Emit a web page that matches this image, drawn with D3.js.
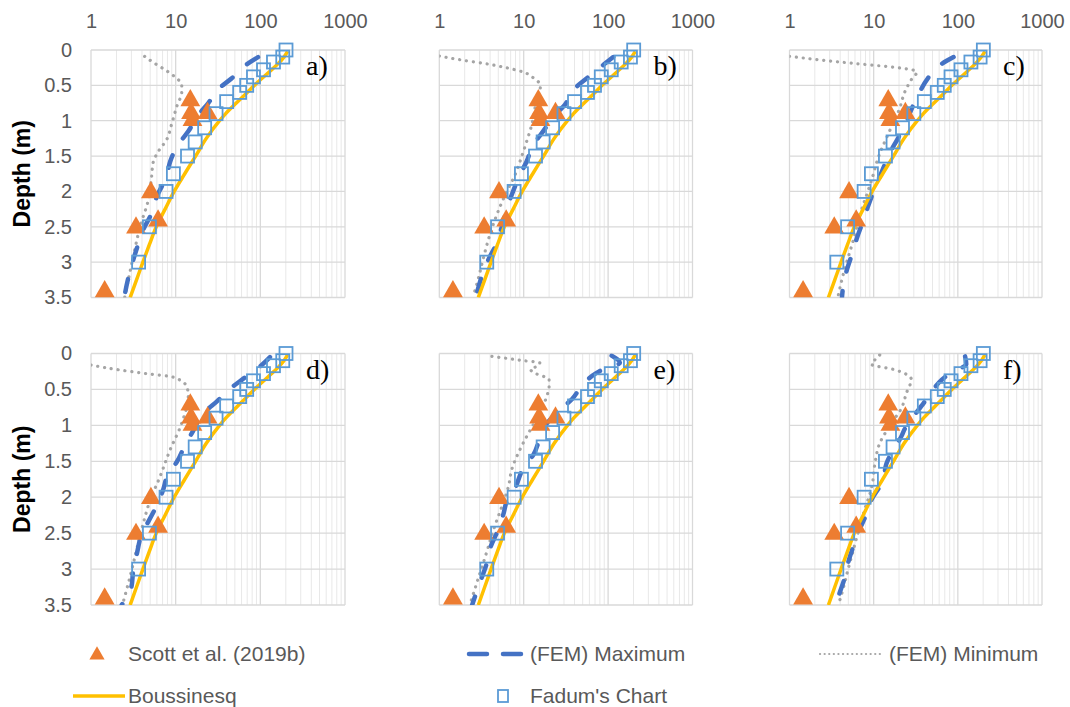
<!DOCTYPE html>
<html>
<head>
<meta charset="utf-8">
<script src="https://cdn.jsdelivr.net/npm/d3@7"></script>
<style>
  html, body { margin: 0; padding: 0; background: #fff; }
  svg { display: block; font-family: "Liberation Sans", Arial, sans-serif; }
</style>
</head>
<body>
<svg id="chart" width="1070" height="707"></svg>
<script>
// Vertical stress (log scale, top axis) against depth for six FEM cases a) to f)

const stressTicks = [1, 10, 100, 1000];
const depthTicks = [0, 0.5, 1, 1.5, 2, 2.5, 3, 3.5];
const panelLabels = ["a)", "b)", "c)", "d)", "e)", "f)"];
const seriesNames = ["Scott et al. (2019b)", "(FEM) Maximum", "(FEM) Minimum", "Boussinesq", "Fadum's Chart"];
const depthTitle = "Depth (m)";

// Reference series, identical in every panel: [depth (m), stress]
const scott = [[0.7, 14.9], [0.88, 15.2], [0.98, 15.8], [0.88, 23.8], [2.0, 5.1], [2.4, 6.2], [2.5, 3.4], [3.4, 1.45]];
const fadum = [[0, 201], [0.1, 184], [0.17, 143], [0.28, 109], [0.38, 83], [0.5, 69], [0.6, 57], [0.73, 40],
  [0.9, 30], [1.1, 22], [1.3, 17], [1.5, 13.8], [1.75, 9.4], [2.0, 7.7], [2.5, 4.9], [3.0, 3.65]];
const boussinesq = [[0.02, 210], [0.1, 190], [0.2, 160], [0.3, 130], [0.4, 105], [0.5, 85], [0.6, 70], [0.75, 52],
  [0.9, 39], [1.0, 33], [1.25, 23], [1.5, 17.2], [1.75, 12.8], [2.0, 9.6], [2.25, 7.5], [2.5, 5.9],
  [2.75, 4.9], [3.0, 4.1], [3.25, 3.45], [3.5, 2.9]];

// FEM envelopes per case: [depth (m), stress]
const femMaxA = [[0.1, 94], [0.22, 66], [0.4, 46], [0.55, 32], [0.75, 24.3], [0.92, 18.5], [1.15, 14.1], [1.34, 10.7],
  [1.58, 8.6], [1.79, 7.8], [2.07, 6.0], [2.31, 5.2], [2.54, 4.15], [2.75, 3.6], [3.06, 3.0], [3.22, 2.76], [3.5, 2.47]];
const femMinA = [[0.09, 4.3], [0.18, 5.5], [0.28, 7.5], [0.38, 9.8], [0.49, 11.8], [0.59, 11.8], [0.8, 10.3], [1.04, 9.0],
  [1.27, 7.8], [1.44, 6.2], [1.6, 5.4], [1.79, 5.2], [2.12, 4.75], [2.5, 3.8], [2.92, 3.16], [3.5, 2.5]];

const femMaxB = [[0.1, 115], [0.21, 88], [0.4, 56], [0.54, 40.5], [0.8, 29.5], [0.87, 25.7], [1.18, 16.3], [1.34, 13],
  [1.58, 10.8], [1.77, 9], [2.05, 7.2], [2.24, 6.3], [2.5, 5.5], [2.73, 4.8], [2.97, 3.8], [3.15, 3.3], [3.5, 2.7]];
const femMinB = [[0.085, 1.0], [0.14, 1.8], [0.19, 3.4], [0.25, 6.2], [0.31, 9.8], [0.4, 13.2], [0.5, 15.8], [0.75, 14],
  [1.05, 12.5], [1.3, 10.8], [1.5, 9.5], [1.75, 8.0], [2.0, 6.3], [2.25, 5.1], [2.6, 4.0], [2.9, 3.4], [3.3, 2.8], [3.5, 2.5]];

const femMaxC = [[0.1, 89], [0.21, 62], [0.4, 44], [0.6, 35], [0.87, 27.4], [1.04, 23.9], [1.27, 19], [1.44, 15.8],
  [1.74, 12.3], [1.93, 10.5], [2.19, 8.7], [2.4, 7.6], [2.64, 6.4], [2.87, 5.6], [3.13, 4.75], [3.34, 4.35], [3.5, 4.2]];
const femMinC = [[0.09, 1.0], [0.14, 2.3], [0.19, 5.8], [0.235, 14.5], [0.28, 28.7], [0.31, 32.5], [0.42, 28], [0.565, 24],
  [0.85, 20], [1.18, 15], [1.5, 11.5], [1.85, 9.4], [2.3, 7.0], [2.73, 5.6], [3.15, 4.4], [3.5, 3.75]];

const femMaxD = [[0.05, 130], [0.16, 104], [0.35, 63], [0.49, 44], [0.67, 30.5], [0.81, 22.2], [1.11, 15.5], [1.25, 13.2],
  [1.51, 10.3], [1.67, 8.2], [1.9, 7.1], [2.02, 6.5], [2.34, 4.75], [2.46, 4.15], [2.8, 3.46], [3.01, 3.16], [3.25, 3.0], [3.5, 2.3]];
const femMinD = [[0.16, 1.0], [0.23, 2.2], [0.28, 4.5], [0.33, 9.4], [0.46, 13.5], [0.58, 14.1], [0.97, 11.8], [1.34, 8.6],
  [1.72, 6.5], [2.04, 5.0], [2.36, 4.15], [2.73, 3.46], [3.1, 2.9], [3.5, 2.35]];

const femMaxE = [[0.03, 110], [0.13, 138], [0.2, 95], [0.27, 73], [0.41, 52], [0.64, 37], [0.78, 27], [1.01, 17.9], [1.11, 16.3],
  [1.41, 13], [1.6, 9.9], [1.92, 7.5], [2.01, 6.6], [2.25, 5.7], [2.45, 5.0], [2.71, 4.0], [2.92, 3.65], [3.2, 3.0], [3.38, 2.65], [3.5, 2.45]];
const femMinE = [[0.04, 4.2], [0.07, 6.5], [0.1, 10], [0.13, 15.5], [0.17, 15], [0.22, 12], [0.28, 14], [0.36, 20], [0.46, 20],
  [0.6, 18.7], [0.9, 14.3], [1.15, 10.9], [1.34, 9.0], [1.62, 7.2], [1.85, 6.6], [2.08, 5.7], [2.45, 4.4], [2.83, 3.5], [3.2, 2.77], [3.5, 2.3]];

const femMaxF = [[0.04, 122], [0.15, 126], [0.25, 88], [0.4, 60], [0.52, 50], [0.73, 37], [0.87, 30], [1.05, 23.4], [1.15, 21.4],
  [1.43, 15.5], [1.53, 14.2], [1.76, 12.9], [1.85, 11.8], [2.04, 9.4], [2.18, 8.6], [2.5, 6.5], [2.64, 5.9], [2.92, 4.95],
  [3.13, 4.5], [3.41, 3.76], [3.5, 3.6]];
const femMinF = [[0.02, 11.8], [0.08, 10.5], [0.15, 9.4], [0.22, 17], [0.29, 24.5], [0.36, 28], [0.55, 24.5], [0.76, 21.4],
  [0.94, 17], [1.25, 11.8], [1.55, 10.3], [1.83, 9.6], [2.24, 7.5], [2.68, 5.9], [3.01, 4.95], [3.29, 4.3], [3.5, 3.8]];

const femMax = [femMaxA, femMaxB, femMaxC, femMaxD, femMaxE, femMaxF];
const femMin = [femMinA, femMinB, femMinC, femMinD, femMinE, femMinF];

// Colours
const C_SCOTT = "#ED7D31", C_MAX = "#4472C4", C_MIN = "#A5A5A5", C_BOUS = "#FFC000", C_FADUM = "#5B9BD5";
const C_TEXT = "#595959";
const SANS = "'Liberation Sans', Arial, sans-serif";
const SERIF = "'Liberation Serif', 'Times New Roman', serif";

// Plot-area frames
const colX = [[91, 345], [439.3, 692.5], [789.5, 1042]];
const rowY = [[50, 297.5], [353.5, 605]];

const svg = d3.select("#chart");
const defs = svg.append("defs");

function minorValues() {
  const out = [];
  for (const dec of [1, 10, 100]) for (let k = 2; k <= 9; k++) out.push(k * dec);
  return out;
}

const triangle = d3.symbol().type(d3.symbolTriangle).size(170);

panelLabels.forEach((lab, i) => {
  const col = i % 3, row = Math.floor(i / 3);
  const x = d3.scaleLog().domain([1, 1000]).range(colX[col]);
  const y = d3.scaleLinear().domain([0, 3.5]).range(rowY[row]);
  const [x0, x1] = x.range(), [y0, y1] = y.range();
  const g = svg.append("g");

  // gridlines
  g.append("g").selectAll("line").data(minorValues()).join("line")
    .attr("x1", d => x(d)).attr("x2", d => x(d)).attr("y1", y0).attr("y2", y1)
    .attr("stroke", "#e8e8e8").attr("stroke-width", 1);
  g.append("g").selectAll("line").data(depthTicks).join("line")
    .attr("x1", x0).attr("x2", x1).attr("y1", d => y(d)).attr("y2", d => y(d))
    .attr("stroke", "#d9d9d9").attr("stroke-width", 1.3);
  g.append("g").selectAll("line").data(stressTicks).join("line")
    .attr("x1", d => x(d)).attr("x2", d => x(d)).attr("y1", y0).attr("y2", y1)
    .attr("stroke", "#d9d9d9").attr("stroke-width", 1.3);

  // axes (labels on outer panels only)
  if (row === 0) {
    const ax = g.append("g").attr("transform", `translate(0,${y0})`)
      .call(d3.axisTop(x).tickValues(stressTicks).tickFormat(d3.format("d")).tickSize(0).tickPadding(22));
    ax.select(".domain").remove();
    ax.selectAll("text").style("font-size", "20px").style("font-family", SANS).attr("fill", C_TEXT);
  }
  if (col === 0) {
    const ay = g.append("g").attr("transform", `translate(${x0},0)`)
      .call(d3.axisLeft(y).tickValues(depthTicks).tickFormat(d3.format("")).tickSize(0).tickPadding(19));
    ay.select(".domain").remove();
    ay.selectAll("text").style("font-size", "20px").style("font-family", SANS).attr("fill", C_TEXT);
    g.append("text")
      .attr("transform", `translate(22,${(y0 + y1) / 2}) rotate(-90)`)
      .attr("text-anchor", "middle").attr("dy", "0.35em")
      .style("font-size", "23px").style("font-weight", "bold").style("font-family", SANS)
      .attr("fill", "#000")
      .text(depthTitle);
  }

  // clip for lines
  const clipId = "clip" + i;
  defs.append("clipPath").attr("id", clipId).append("rect")
    .attr("x", x0).attr("y", y0).attr("width", x1 - x0).attr("height", y1 - y0);

  const line = d3.line().x(d => x(d[1])).y(d => y(d[0])).curve(d3.curveMonotoneY);
  const lines = g.append("g").attr("clip-path", `url(#${clipId})`);

  lines.append("path").datum(femMin[i]).attr("d", line)
    .attr("fill", "none").attr("stroke", C_MIN).attr("stroke-width", 3.2)
    .attr("stroke-linecap", "round").attr("stroke-dasharray", "0.1 6.8");
  lines.append("path").datum(femMax[i]).attr("d", line)
    .attr("fill", "none").attr("stroke", C_MAX).attr("stroke-width", 4.5)
    .attr("stroke-linecap", "round").attr("stroke-dasharray", "13 20");
  lines.append("path").datum(boussinesq).attr("d", line)
    .attr("fill", "none").attr("stroke", C_BOUS).attr("stroke-width", 3.5);

  // markers
  g.append("g").selectAll("path").data(scott).join("path")
    .attr("d", triangle)
    .attr("transform", d => `translate(${x(d[1])},${y(d[0]) + 1})`)
    .attr("fill", C_SCOTT);
  g.append("g").selectAll("rect").data(fadum).join("rect")
    .attr("x", d => x(d[1]) - 6.5).attr("y", d => y(d[0]) - 6.5)
    .attr("width", 13).attr("height", 13)
    .attr("fill", "none").attr("stroke", C_FADUM).attr("stroke-width", 1.8);

  // panel tag
  g.append("text").attr("x", x1 - 39).attr("y", y0 + 25)
    .style("font-family", SERIF).style("font-size", "28px")
    .attr("fill", "#000").text(lab);
});

// Legend
const leg = svg.append("g").style("font-size", "21px").style("font-family", SANS).attr("fill", C_TEXT);
const L1 = 654, L2 = 696;
leg.append("path").attr("d", d3.symbol().type(d3.symbolTriangle).size(100))
  .attr("transform", `translate(97,${L1 + 1})`).attr("fill", C_SCOTT);
leg.append("text").attr("x", 128).attr("y", L1).attr("dy", "0.35em").text(seriesNames[0]);

leg.append("line").attr("x1", 469).attr("x2", 521).attr("y1", L1).attr("y2", L1)
  .attr("stroke", C_MAX).attr("stroke-width", 4.5).attr("stroke-linecap", "round").attr("stroke-dasharray", "18 16");
leg.append("text").attr("x", 530).attr("y", L1).attr("dy", "0.35em").text(seriesNames[1]);

leg.append("line").attr("x1", 820).attr("x2", 883).attr("y1", L1).attr("y2", L1)
  .attr("stroke", C_MIN).attr("stroke-width", 2.2).attr("stroke-linecap", "round").attr("stroke-dasharray", "0.1 4.5");
leg.append("text").attr("x", 889).attr("y", L1).attr("dy", "0.35em").text(seriesNames[2]);

leg.append("line").attr("x1", 73).attr("x2", 125).attr("y1", L2).attr("y2", L2)
  .attr("stroke", C_BOUS).attr("stroke-width", 3.5);
leg.append("text").attr("x", 128).attr("y", L2).attr("dy", "0.35em").text(seriesNames[3]);

leg.append("rect").attr("x", 498).attr("y", L2 - 6).attr("width", 10).attr("height", 12)
  .attr("fill", "none").attr("stroke", C_FADUM).attr("stroke-width", 1.8);
leg.append("text").attr("x", 530).attr("y", L2).attr("dy", "0.35em").text(seriesNames[4]);
</script>
</body>
</html>
